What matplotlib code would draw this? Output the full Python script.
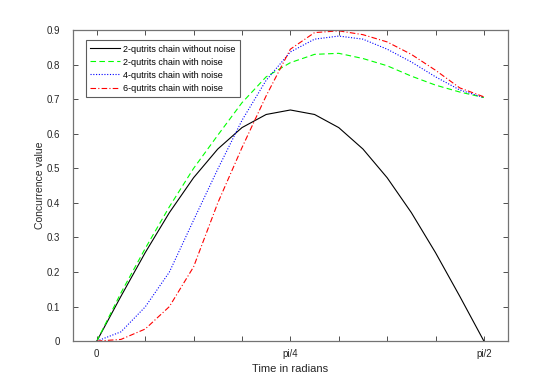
import numpy as np
import matplotlib
matplotlib.use("Agg")
import matplotlib.pyplot as plt

plt.rcParams['font.family'] = ['Liberation Sans', 'DejaVu Sans']

# time grid, pi/32 steps from 0 to pi/2
t = np.linspace(0, np.pi / 2, 17)

# values
c_2q_clean = [0, 0.13, 0.256, 0.372, 0.473, 0.556, 0.618, 0.656, 0.669,
              0.656, 0.618, 0.556, 0.473, 0.372, 0.256, 0.13, 0]
c_2q_noise = [0, 0.14, 0.268, 0.389, 0.50, 0.596, 0.69, 0.765, 0.806,
              0.830, 0.833, 0.818, 0.797, 0.767, 0.741, 0.721, 0.705]
c_4q_noise = [0, 0.027, 0.099, 0.20, 0.35, 0.498, 0.639, 0.755, 0.837,
              0.874, 0.883, 0.874, 0.845, 0.808, 0.765, 0.727, 0.705]
c_6q_noise = [0, 0.005, 0.035, 0.10, 0.215, 0.40, 0.56, 0.71, 0.845,
              0.893, 0.898, 0.887, 0.866, 0.830, 0.784, 0.733, 0.707]

labels = ["2-qutrits chain without noise", "2-qutrits chain with noise",
          "4-qutrits chain with noise", "6-qutrits chain with noise"]

xtick_pos = np.linspace(0, np.pi / 2, 9)
xtick_lab = ["0", "", "", "", "pi/4", "", "", "", "pi/2"]
ytick_pos = np.arange(0, 0.91, 0.1)
ytick_lab = ["0", "0.1", "0.2", "0.3", "0.4", "0.5", "0.6", "0.7", "0.8", "0.9"]

fig = plt.figure(figsize=(5.6, 3.82), dpi=100)
ax = fig.add_axes([0.130, 0.107, 0.777, 0.814])

ax.plot(t, c_2q_clean, '-', color='k', lw=0.8, label=labels[0])
ax.plot(t, c_2q_noise, '--', color=(0, 1, 0), lw=0.8, dashes=(5, 3), label=labels[1])
ax.plot(t, c_4q_noise, ':', color=(0, 0, 1), lw=0.8, dashes=(1, 1.5), label=labels[2])
ax.plot(t, c_6q_noise, '-.', color=(1, 0, 0), lw=0.8, dashes=(5, 2, 1, 2), label=labels[3])

ax.set_xlim(-0.0974, np.pi / 2 + 0.0974)
ax.set_ylim(0, 0.9)
ax.set_xticks(xtick_pos)
ax.set_xticklabels(xtick_lab)
ax.set_yticks(ytick_pos)
ax.set_yticklabels(ytick_lab)
ax.tick_params(direction='in', length=3.5, width=0.6, color='0.2',
               top=True, right=True, labelsize=7, labelcolor='0.15')
ax.tick_params(axis='x', pad=6)
ax.tick_params(axis='y', pad=9)
for s in ax.spines.values():
    s.set_color('0.45')
    s.set_linewidth(0.9)

ax.set_xlabel("Time in radians", fontsize=8, color='0.15', labelpad=3)
ax.set_ylabel("Concurrence value", fontsize=7.5, color='0.15', labelpad=1)

leg = ax.legend(loc='upper left', bbox_to_anchor=(0.03, 0.967), fontsize=6.5,
                frameon=True, fancybox=False, edgecolor='0.2',
                handlelength=3.3, handletextpad=0.4, labelspacing=0.45,
                borderpad=0.45, borderaxespad=0)
leg.get_frame().set_linewidth(0.8)

fig.savefig("out.png", dpi=100)
